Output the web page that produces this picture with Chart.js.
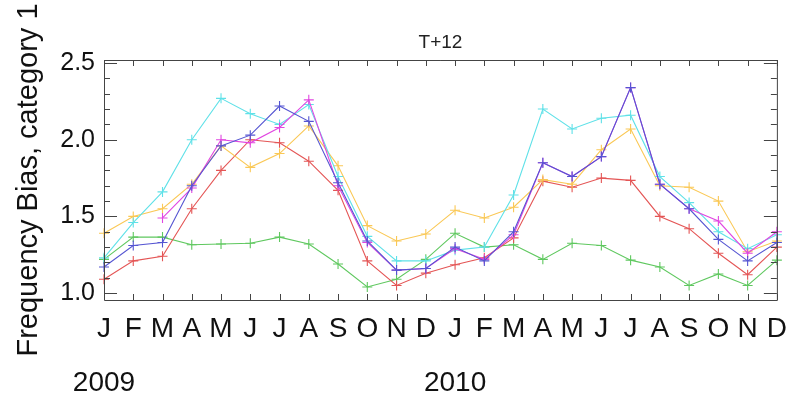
<!DOCTYPE html>
<html>
<head>
<meta charset="utf-8">
<script src="https://cdn.jsdelivr.net/npm/chart.js@4/dist/chart.umd.min.js"></script>
<style>
  html, body { margin: 0; padding: 0; background: #fff; }
  #wrap { width: 790px; height: 394px; }
</style>
</head>
<body>
<div id="wrap"><canvas id="myChart"></canvas></div>
<script>
// months Jan 2009 .. Dec 2010
const months = ['J','F','M','A','M','J','J','A','S','O','N','D','J','F','M','A','M','J','J','A','S','O','N','D'];
const years = {0: '2009', 12: '2010'};
const yTicks = [1.0, 1.5, 2.0, 2.5];
const titleText = 'T+12';

const cyanVals = [1.23, 1.46, 1.66, 2.00, 2.27, 2.17, 2.10, 2.23, 1.76, 1.37, 1.21, 1.21, 1.28, 1.30, 1.64, 2.20, 2.07, 2.14, 2.16, 1.76, 1.59, 1.40, 1.29, 1.38];
const orangeVals = [1.39, 1.50, 1.55, 1.71, 1.96, 1.82, 1.91, 2.09, 1.83, 1.44, 1.34, 1.385, 1.54, 1.49, 1.56, 1.74, 1.71, 1.935, 2.07, 1.70, 1.69, 1.60, 1.27, 1.34];
const blueVals = [1.17, 1.31, 1.33, 1.70, 1.96, 2.03, 2.22, 2.12, 1.72, 1.34, 1.15, 1.16, 1.30, 1.21, 1.40, 1.85, 1.76, 1.89, 2.34, 1.71, 1.55, 1.35, 1.21, 1.33];
const magentaVals = [null, null, 1.49, 1.685, 2.00, 1.98, 2.08, 2.26, 1.70, 1.33, 1.15, 1.16, 1.29, 1.22, 1.38, 1.85, 1.76, 1.89, 2.34, 1.71, 1.55, 1.47, 1.26, 1.40];
const redVals = [1.09, 1.21, 1.24, 1.55, 1.80, 2.00, 1.98, 1.86, 1.67, 1.21, 1.05, 1.13, 1.185, 1.23, 1.36, 1.73, 1.69, 1.75, 1.735, 1.50, 1.42, 1.26, 1.12, 1.30];
const greenVals = [1.22, 1.365, 1.365, 1.315, 1.32, 1.325, 1.365, 1.32, 1.19, 1.04, 1.09, 1.22, 1.39, 1.30, 1.315, 1.22, 1.325, 1.31, 1.215, 1.17, 1.05, 1.125, 1.05, 1.215];

const labels = months.map((m, i) => years[i] ? [m, years[i]] : m);

function serie(data, color) {
    return {
        data: data,
        borderColor: color,
        backgroundColor: color,
        borderWidth: 1.1,
        pointStyle: 'cross',
        pointRadius: 5,
        pointBorderWidth: 1.1,
        pointHoverRadius: 5,
        tension: 0,
        spanGaps: false
    };
}

// IDL style box with inward ticks, title centred over the plot
const boxTicks = {
    id: 'boxTicks',
    afterDatasetsDraw(chart) {
        const {ctx, chartArea: a, scales} = chart;
        const x = scales.x, y = scales.y;
        ctx.save();
        ctx.strokeStyle = '#444';
        ctx.lineWidth = 1;
        ctx.beginPath();
        ctx.rect(a.left + 0.5, a.top + 0.5, a.right - a.left, a.bottom - a.top);
        for (let v = 10; v <= 25; v++) {
            const py = Math.round(y.getPixelForValue(v / 10)) + 0.5;
            const len = v % 5 === 0 ? 13 : 6;
            ctx.moveTo(a.left, py); ctx.lineTo(a.left + len, py);
            ctx.moveTo(a.right, py); ctx.lineTo(a.right - len, py);
        }
        months.forEach((m, i) => {
            const px = Math.round(x.getPixelForValue(i)) + 0.5;
            ctx.moveTo(px, a.bottom); ctx.lineTo(px, a.bottom - 6);
            ctx.moveTo(px, a.top); ctx.lineTo(px, a.top + 6);
        });
        ctx.stroke();

        ctx.fillStyle = '#222';
        ctx.font = '19px "Liberation Sans", Arial, sans-serif';
        ctx.textAlign = 'center';
        ctx.textBaseline = 'middle';
        ctx.fillText(titleText, (a.left + a.right) / 2, a.top - 17);
        ctx.restore();
    }
};

const canvas = document.getElementById('myChart');
// first dataset is drawn on top
const myChart = new Chart(canvas, {
    type: 'line',
    data: {
        labels: labels,
        datasets: [
            serie(blueVals, 'rgb(85,85,210)'),
            serie(magentaVals, 'rgb(225,70,225)'),
            serie(cyanVals, 'rgb(95,225,232)'),
            serie(orangeVals, 'rgb(250,200,85)'),
            serie(redVals, 'rgb(228,85,85)'),
            serie(greenVals, 'rgb(95,200,95)')
        ]
    },
    options: {
        responsive: true,
        maintainAspectRatio: false,
        animation: false,
        layout: { padding: { left: 0, right: 12, top: 60, bottom: 0 } },
        plugins: {
            legend: { display: false },
            tooltip: { enabled: false },
            title: { display: false }
        },
        scales: {
            x: {
                type: 'category',
                offset: false,
                grid: { display: false, drawTicks: false },
                border: { display: false },
                ticks: {
                    color: '#111',
                    autoSkip: false,
                    maxRotation: 0,
                    padding: 3,
                    font: { family: 'Liberation Sans, Arial, sans-serif', size: 28, lineHeight: 1.9 }
                },
                afterFit(scale) { scale.height = 94; }
            },
            y: {
                min: 0.955,
                max: 2.52,
                grid: { display: false, drawTicks: false },
                border: { display: false },
                afterBuildTicks(axis) { axis.ticks = yTicks.map(v => ({ value: v })); },
                ticks: {
                    color: '#111',
                    padding: 9,
                    font: { family: 'Liberation Sans, Arial, sans-serif', size: 25 },
                    callback: v => Number(v).toFixed(1)
                },
                title: {
                    display: true,
                    text: 'Frequency Bias, category 1',
                    color: '#111',
                    font: { family: 'Liberation Sans, Arial, sans-serif', size: 29 },
                    padding: { top: 12, bottom: 0 }
                },
                afterFit(scale) { scale.width = 104; }
            }
        }
    },
    plugins: [boxTicks]
});
</script>
</body>
</html>
